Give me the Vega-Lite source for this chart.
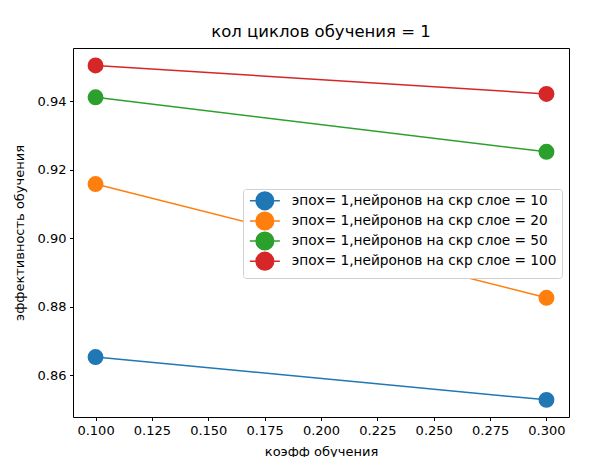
{
  "$schema": "https://vega.github.io/schema/vega-lite/v6.json",
  "width": 496,
  "height": 369,
  "autosize": {"type": "none"},
  "padding": {"left": 73, "top": 48, "right": 21, "bottom": 40},
  "background": "white",
  "config": {
    "font": "DejaVu Sans",
    "view": {"stroke": "black", "strokeWidth": 1},
    "axis": {
      "grid": false,
      "domain": false,
      "tickColor": "black",
      "tickSize": 3.5,
      "labelColor": "black",
      "labelFontSize": 13,
      "labelPadding": 3.5,
      "titleColor": "black",
      "titleFontSize": 13,
      "titleFontWeight": "normal"
    }
  },
  "title": {
    "text": "кол циклов обучения = 1",
    "fontSize": 16.5,
    "fontWeight": "normal",
    "color": "black",
    "anchor": "middle",
    "offset": 8
  },
  "data": {
    "values": [
      {"lr": 0.1, "eff": 0.8653, "series": "эпох= 1,нейронов на скр слое = 10"},
      {"lr": 0.3, "eff": 0.8528, "series": "эпох= 1,нейронов на скр слое = 10"},
      {"lr": 0.1, "eff": 0.9158, "series": "эпох= 1,нейронов на скр слое = 20"},
      {"lr": 0.3, "eff": 0.8826, "series": "эпох= 1,нейронов на скр слое = 20"},
      {"lr": 0.1, "eff": 0.9411, "series": "эпох= 1,нейронов на скр слое = 50"},
      {"lr": 0.3, "eff": 0.9252, "series": "эпох= 1,нейронов на скр слое = 50"},
      {"lr": 0.1, "eff": 0.9504, "series": "эпох= 1,нейронов на скр слое = 100"},
      {"lr": 0.3, "eff": 0.9421, "series": "эпох= 1,нейронов на скр слое = 100"}
    ]
  },
  "encoding": {
    "x": {
      "field": "lr",
      "type": "quantitative",
      "scale": {"domain": [0.09, 0.31], "nice": false, "zero": false},
      "axis": {
        "title": "коэфф обучения",
        "values": [0.1, 0.125, 0.15, 0.175, 0.2, 0.225, 0.25, 0.275, 0.3],
        "format": ".3f",
        "titlePadding": 8
      }
    },
    "y": {
      "field": "eff",
      "type": "quantitative",
      "scale": {"domain": [0.8478, 0.9555], "nice": false, "zero": false},
      "axis": {
        "title": "эффективность обучения",
        "values": [0.86, 0.88, 0.9, 0.92, 0.94],
        "format": ".2f",
        "titlePadding": 11
      }
    },
    "color": {
      "field": "series",
      "type": "nominal",
      "sort": [
        "эпох= 1,нейронов на скр слое = 10",
        "эпох= 1,нейронов на скр слое = 20",
        "эпох= 1,нейронов на скр слое = 50",
        "эпох= 1,нейронов на скр слое = 100"
      ],
      "scale": {"range": ["#1f77b4", "#ff7f0e", "#2ca02c", "#d62728"]},
      "legend": {
        "title": null,
        "orient": "none",
        "legendX": 170,
        "legendY": 141,
        "padding": 5,
        "fillColor": "white",
        "strokeColor": "#d0d0d0",
        "cornerRadius": 3,
        "labelFontSize": 13.7,
        "labelColor": "black",
        "labelLimit": 400,
        "symbolType": "M-3,0L3,0M1.76,0A1.76,1.76,0,1,1,-1.76,0A1.76,1.76,0,1,1,1.76,0Z",
        "symbolSize": 100,
        "symbolStrokeWidth": 1.5,
        "symbolOffset": 10,
        "labelOffset": 20,
        "rowPadding": -3.9,
        "encode": {
          "symbols": {
            "update": {
              "fill": {"scale": "color", "field": "value"},
              "stroke": {"scale": "color", "field": "value"},
              "fillOpacity": {"value": 1},
              "opacity": {"value": 1}
            }
          }
        }
      }
    }
  },
  "layer": [
    {"mark": {"type": "line", "strokeWidth": 1.5}},
    {"mark": {"type": "circle", "size": 254, "opacity": 1}}
  ]
}
